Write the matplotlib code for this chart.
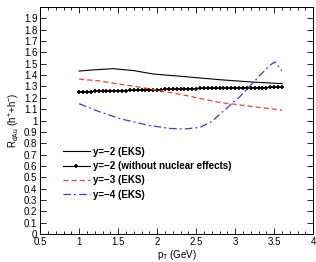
import numpy as np
import matplotlib
matplotlib.use('Agg')
import matplotlib.pyplot as plt
from matplotlib.ticker import MultipleLocator

plt.rcParams['font.family'] = ['Liberation Sans', 'DejaVu Sans']

# y=-2 (EKS)
pt_y2 = [1.0, 1.2, 1.44, 1.7, 1.95, 2.3, 2.8, 3.2, 3.6]
r_y2 = [1.436, 1.447, 1.457, 1.44, 1.41, 1.39, 1.36, 1.34, 1.325]

# y=-2 without nuclear effects (dense points)
pt_nn = [1.0, 1.05, 1.1, 1.15, 1.2, 1.25, 1.3, 1.35, 1.4, 1.45, 1.5, 1.55, 1.6,
         1.65, 1.7, 1.75, 1.8, 1.85, 1.9, 1.95, 2.0, 2.05, 2.1, 2.15, 2.2, 2.25,
         2.3, 2.35, 2.4, 2.45, 2.5, 2.55, 2.6, 2.65, 2.7, 2.75, 2.8, 2.85, 2.9,
         2.95, 3.0, 3.05, 3.1, 3.15, 3.2, 3.25, 3.3, 3.35, 3.4, 3.45, 3.5, 3.55, 3.6]
r_nn = [1.248, 1.250, 1.252, 1.254, 1.256, 1.257, 1.258, 1.259, 1.260, 1.261,
        1.262, 1.263, 1.264, 1.265, 1.266, 1.267, 1.268, 1.269, 1.270, 1.271,
        1.272, 1.273, 1.274, 1.275, 1.276, 1.277, 1.278, 1.279, 1.280, 1.281,
        1.282, 1.283, 1.283, 1.284, 1.284, 1.285, 1.285, 1.286, 1.286, 1.287,
        1.287, 1.288, 1.288, 1.289, 1.289, 1.290, 1.290, 1.291, 1.291, 1.292,
        1.292, 1.293, 1.293]

# y=-3 (EKS)
pt_y3 = [1.0, 1.25, 1.53, 1.9, 2.3, 2.8, 3.2, 3.6]
r_y3 = [1.365, 1.35, 1.32, 1.28, 1.23, 1.16, 1.125, 1.092]

# y=-4 (EKS)
pt_y4 = [1.0, 1.25, 1.53, 1.9, 2.17, 2.35, 2.55, 2.7, 2.81, 3.06, 3.32, 3.45, 3.51, 3.6]
r_y4 = [1.148, 1.08, 1.015, 0.956, 0.93, 0.925, 0.94, 0.99, 1.06, 1.21, 1.40, 1.49, 1.516, 1.44]

fig = plt.figure(figsize=(3.16, 2.62), dpi=100)
ax = fig.add_axes([0.127, 0.107, 0.864, 0.866])

ax.plot(pt_y2, r_y2, color='black', lw=0.8, label='y=\u22122 (EKS)')
ax.plot(pt_nn, r_nn, color='black', lw=0.8, marker='+', ms=3, mew=1.2,
        label='y=\u22122 (without nuclear effects)')
ax.plot(pt_y3, r_y3, color='#e8413c', lw=0.9, ls=(0, (4, 2.5)), label='y=\u22123 (EKS)')
ax.plot(pt_y4, r_y4, color='#3b3bd8', lw=0.9, ls=(0, (6, 2.5, 1.5, 2.5)), label='y=\u22124 (EKS)')

ax.set_xlim(0.5, 4)
ax.set_ylim(0, 2)
ax.set_xticks(np.arange(0.5, 4.01, 0.5))
ax.set_xticklabels(['0.5', '1', '1.5', '2', '2.5', '3', '3.5', '4'])
yt = np.round(np.arange(0, 1.91, 0.1), 1)
ax.set_yticks(yt)
ax.set_yticklabels(['%g' % v for v in yt])
ax.xaxis.set_minor_locator(MultipleLocator(0.1))
ax.tick_params(which='both', direction='in', top=True, right=True, labelsize=7)
ax.tick_params(axis='x', pad=2.5)
ax.tick_params(axis='y', pad=2)
ax.tick_params(which='major', length=4, width=0.6)
ax.tick_params(which='minor', length=2, width=0.6)
for s in ax.spines.values():
    s.set_linewidth(0.7)

ax.set_xlabel(r'p$_{\mathregular{T}}$ (GeV)', fontsize=7, labelpad=0.5)
ax.set_ylabel(r'R$_{\mathregular{dAu}}$ (h$^{\mathregular{+}}$+h$^{\mathregular{-}}$)', fontsize=7, labelpad=1)

leg = ax.legend(loc='upper left', bbox_to_anchor=(0.085, 0.385), frameon=False,
                fontsize=7, handlelength=2.7, labelspacing=0.45, handletextpad=0.4,
                borderaxespad=0, borderpad=0)
for t in leg.get_texts():
    t.set_fontweight('bold')

fig.savefig('out.png', dpi=100)
